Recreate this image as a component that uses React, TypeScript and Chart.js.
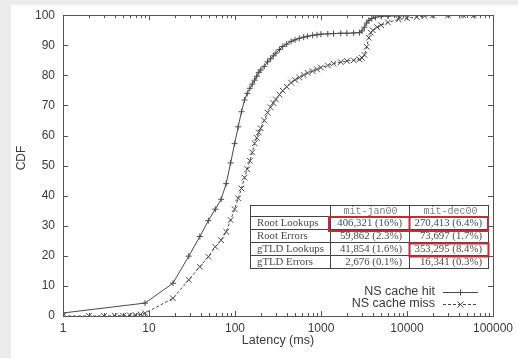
import React, { useEffect, useRef } from "react";
import { Chart, registerables } from "chart.js";

Chart.register(...registerables);

// ---- Data ----
const hitLatency = [1, 9, 19, 29, 39, 49, 59, 69, 79, 89, 99, 109, 119, 129, 139, 149, 159, 169, 179, 189, 199, 219, 239, 259, 279, 299, 329, 359, 399, 449, 499, 559, 629, 699, 799, 899, 999, 1199, 1399, 1699, 1999, 2399, 2799, 2999, 3199, 3399, 3599, 3899, 4299, 4999, 5999, 7999, 9999, 14999, 19999, 29999, 44999, 59999];
const hitCdf = [1.0, 4.3, 10.9, 19.9, 26.4, 31.7, 35.5, 38.8, 44.0, 50.9, 57.3, 62.9, 67.9, 71.8, 74.0, 75.7, 77.1, 78.4, 79.7, 81.0, 81.8, 83.0, 84.5, 85.5, 86.5, 87.4, 88.6, 89.6, 90.4, 91.3, 91.8, 92.3, 92.7, 93.0, 93.3, 93.5, 93.7, 93.8, 93.9, 94.0, 94.0, 94.1, 94.2, 94.8, 96.0, 97.4, 98.3, 98.9, 99.3, 99.6, 99.7, 99.8, 99.9, 99.9, 100, 100, 100, 100];

const missLatency = [1, 2, 3, 4, 5, 6, 7, 8, 9, 19, 29, 39, 49, 59, 69, 79, 89, 99, 109, 119, 129, 139, 149, 159, 169, 179, 189, 199, 219, 239, 259, 279, 299, 329, 359, 399, 449, 499, 559, 629, 699, 799, 899, 999, 1199, 1399, 1699, 1999, 2399, 2799, 2999, 3199, 3399, 3599, 3799, 3999, 4499, 4999, 5999, 7999, 9999, 12999, 15999, 19999, 29999, 44999, 59999];
const missCdf = [0, 0, 0, 0.1, 0.1, 0.2, 0.3, 0.5, 0.9, 5.9, 12.0, 16.4, 19.7, 23.0, 25.2, 28.0, 31.9, 35.5, 39.1, 42.4, 46.0, 48.8, 51.6, 54.4, 57.4, 59.2, 61.0, 62.4, 65.0, 67.6, 69.4, 70.8, 72.0, 73.6, 74.9, 76.2, 77.6, 78.5, 79.3, 80.1, 80.8, 81.4, 82.0, 82.6, 83.3, 83.9, 84.4, 84.8, 85.0, 85.3, 85.8, 86.8, 89.5, 92.5, 94.2, 95.0, 96.0, 96.7, 97.6, 98.6, 99.0, 99.4, 99.7, 99.9, 100, 100, 100];

const seriesLabels = ["NS cache hit", "NS cache miss"];
const xTickValues = [1, 10, 100, 1000, 10000, 100000];
const yTickValues = [0, 10, 20, 30, 40, 50, 60, 70, 80, 90, 100];
const xTitle = "Latency (ms)";
const yTitle = "CDF";

const tableColumns = ["mit-jan00", "mit-dec00"];
const tableRows = ["Root Lookups", "Root Errors", "gTLD Lookups", "gTLD Errors"];
const janValues = ["406,321 (16%)", "59,862 (2.3%)", "41,854 (1.6%)", "2,676 (0.1%)"];
const decValues = ["270,413 (6.4%)", "73,697 (1.7%)", "353,295 (8.4%)", "16,341 (0.3%)"];

const LINE = "#4a4a4a";
const AXIS = "#555555";
const TEXT = "#3a3a3a";

const decorPlugin = {
  id: "decor",
  beforeDraw(chart: any) {
    const { ctx, width, height } = chart;
    ctx.save();
    ctx.fillStyle = "#ececec";
    ctx.fillRect(0, 0, width, height);
    ctx.fillStyle = "#ffffff";
    ctx.fillRect(11, 5, width - 11, height - 5);
    ctx.restore();
  },
  afterDatasetsDraw(chart: any) {
    const { ctx, chartArea } = chart;
    const { left, right, top, bottom } = chartArea;
    const xs = chart.scales.x;
    const ys = chart.scales.y;
    ctx.save();

    // border
    ctx.strokeStyle = AXIS;
    ctx.lineWidth = 1;
    ctx.strokeRect(Math.round(left) + 0.5, Math.round(top) + 0.5, Math.round(right - left), Math.round(bottom - top));

    // y ticks (left + right, inward)
    ctx.beginPath();
    for (const v of yTickValues) {
      const y = Math.round(ys.getPixelForValue(v)) + 0.5;
      ctx.moveTo(left, y); ctx.lineTo(left + 5, y);
      ctx.moveTo(right, y); ctx.lineTo(right - 5, y);
    }
    // x ticks (bottom + top, inward), with minor ticks
    for (let d = 0; d < xTickValues.length; d++) {
      const base = xTickValues[d];
      const xp = Math.round(xs.getPixelForValue(base)) + 0.5;
      ctx.moveTo(xp, bottom); ctx.lineTo(xp, bottom - 5);
      ctx.moveTo(xp, top); ctx.lineTo(xp, top + 5);
      if (d < xTickValues.length - 1) {
        for (let m = 2; m <= 9; m++) {
          const mp = Math.round(xs.getPixelForValue(base * m)) + 0.5;
          ctx.moveTo(mp, bottom); ctx.lineTo(mp, bottom - 3);
          ctx.moveTo(mp, top); ctx.lineTo(mp, top + 3);
        }
      }
    }
    ctx.stroke();

    // y title
    ctx.fillStyle = TEXT;
    ctx.font = "12px 'Liberation Sans', Arial, sans-serif";
    ctx.textAlign = "center";
    ctx.textBaseline = "middle";
    ctx.save();
    ctx.translate(22, 158);
    ctx.rotate(-Math.PI / 2);
    ctx.fillText(yTitle, 0, 0);
    ctx.restore();

    // ---- table ----
    const tx = [250, 330, 409, 488];
    const ty = [205, 216, 229, 242, 255, 268];
    ctx.fillStyle = "#ffffff";
    ctx.fillRect(tx[0], ty[0], tx[3] - tx[0], ty[5] - ty[0]);
    ctx.strokeStyle = "#444444";
    ctx.lineWidth = 1;
    ctx.beginPath();
    for (const y of ty) { ctx.moveTo(tx[0], y + 0.5); ctx.lineTo(tx[3] + 1, y + 0.5); }
    for (const x of tx) { ctx.moveTo(x + 0.5, ty[0]); ctx.lineTo(x + 0.5, ty[5] + 1); }
    ctx.stroke();

    ctx.textBaseline = "middle";
    ctx.fillStyle = "#808080";
    ctx.font = "10px 'Liberation Mono', 'DejaVu Sans Mono', monospace";
    ctx.textAlign = "center";
    ctx.fillText(tableColumns[0], (tx[1] + tx[2]) / 2 + 1, (ty[0] + ty[1]) / 2 + 0.5);
    ctx.fillText(tableColumns[1], (tx[2] + tx[3]) / 2 + 2, (ty[0] + ty[1]) / 2 + 0.5);

    ctx.fillStyle = "#4a4a4a";
    ctx.font = "10.8px 'Liberation Serif', 'Times New Roman', serif";
    for (let i = 0; i < tableRows.length; i++) {
      const cy = (ty[i + 1] + ty[i + 2]) / 2 + 0.5;
      ctx.textAlign = "left";
      ctx.fillText(tableRows[i], tx[0] + 7, cy);
      ctx.textAlign = "right";
      ctx.fillText(janValues[i], tx[2] - 7, cy);
      ctx.fillText(decValues[i], tx[3] - 6, cy);
    }

    // red highlight boxes
    ctx.strokeStyle = "#c62a32";
    ctx.lineWidth = 2;
    ctx.strokeRect(tx[1] - 1, ty[1] + 1, tx[3] - tx[1] + 1, ty[2] - ty[1] + 1);
    ctx.beginPath();
    ctx.moveTo(tx[2] + 0.5, ty[1] + 1); ctx.lineTo(tx[2] + 0.5, ty[2] + 2);
    ctx.stroke();
    ctx.strokeRect(tx[2] + 0.5, ty[3] + 1.5, tx[3] - tx[2], ty[4] - ty[3]);

    // ---- legend ----
    ctx.font = "12.5px 'Liberation Sans', Arial, sans-serif";
    ctx.fillStyle = TEXT;
    ctx.textAlign = "right";
    ctx.textBaseline = "middle";
    const ly = [292, 303.5];
    const lx0 = 443, lx1 = 478;
    for (let i = 0; i < seriesLabels.length; i++) {
      ctx.fillText(seriesLabels[i], 435, ly[i]);
      const yy = Math.round(ly[i]) + 0.5;
      ctx.strokeStyle = LINE;
      ctx.lineWidth = 1;
      ctx.setLineDash(i === 0 ? [] : [3, 2]);
      ctx.beginPath();
      ctx.moveTo(lx0, yy); ctx.lineTo(lx1, yy);
      ctx.stroke();
      ctx.setLineDash([]);
      const mx = (lx0 + lx1) / 2;
      ctx.beginPath();
      if (i === 0) {
        ctx.moveTo(mx, yy - 3); ctx.lineTo(mx, yy + 3);
        ctx.moveTo(mx - 3, yy); ctx.lineTo(mx + 3, yy);
      } else {
        ctx.moveTo(mx - 3, yy - 3); ctx.lineTo(mx + 3, yy + 3);
        ctx.moveTo(mx - 3, yy + 3); ctx.lineTo(mx + 3, yy - 3);
      }
      ctx.stroke();
    }
    ctx.restore();
  },
};

export default function App() {
  const ref = useRef<HTMLCanvasElement | null>(null);

  useEffect(() => {
    document.body.style.margin = "0";
    const canvas = ref.current;
    if (!canvas) return;
    const chart = new Chart(canvas, {
      type: "line",
      data: {
        datasets: [
          {
            label: seriesLabels[0],
            data: hitLatency.map((x, i) => ({ x, y: hitCdf[i] })),
            borderColor: LINE,
            borderWidth: 1,
            pointStyle: "cross",
            pointRadius: 3,
            pointBorderColor: LINE,
            pointBorderWidth: 1,
            pointBackgroundColor: LINE,
            fill: false,
            tension: 0,
          },
          {
            label: seriesLabels[1],
            data: missLatency.map((x, i) => ({ x, y: missCdf[i] })),
            borderColor: LINE,
            borderWidth: 1,
            borderDash: [3, 2],
            pointStyle: "crossRot",
            pointRadius: 4,
            pointBorderColor: LINE,
            pointBorderWidth: 1,
            pointBackgroundColor: LINE,
            fill: false,
            tension: 0,
          },
        ],
      },
      options: {
        animation: false,
        responsive: false,
        devicePixelRatio: 1,
        layout: { padding: { top: 15, right: 24, bottom: 0, left: 0 } },
        plugins: { legend: { display: false }, tooltip: { enabled: false } },
        scales: {
          x: {
            type: "logarithmic",
            min: 1,
            max: 100000,
            grid: { display: false, drawTicks: false },
            border: { display: false },
            afterBuildTicks: (scale: any) => {
              scale.ticks = xTickValues.map((v) => ({ value: v }));
            },
            afterFit: (scale: any) => {
              scale.height = 42;
            },
            ticks: {
              color: TEXT,
              padding: 5,
              maxRotation: 0,
              autoSkip: false,
              font: { family: "'Liberation Sans', Arial, sans-serif", size: 12 },
              callback: (v: any) => String(v),
            },
            title: {
              display: true,
              text: xTitle,
              color: TEXT,
              padding: { top: 0, bottom: 10 },
              font: { family: "'Liberation Sans', Arial, sans-serif", size: 12.5 },
            },
          },
          y: {
            type: "linear",
            min: 0,
            max: 100,
            grid: { display: false, drawTicks: false },
            border: { display: false },
            afterBuildTicks: (scale: any) => {
              scale.ticks = yTickValues.map((v) => ({ value: v }));
            },
            afterFit: (scale: any) => {
              scale.width = 63;
            },
            ticks: {
              color: TEXT,
              padding: 8,
              font: { family: "'Liberation Sans', Arial, sans-serif", size: 12 },
            },
          },
        },
      },
      plugins: [decorPlugin],
    });
    return () => chart.destroy();
  }, []);

  return <canvas ref={ref} width={518} height={358} style={{ display: "block" }} />;
}
